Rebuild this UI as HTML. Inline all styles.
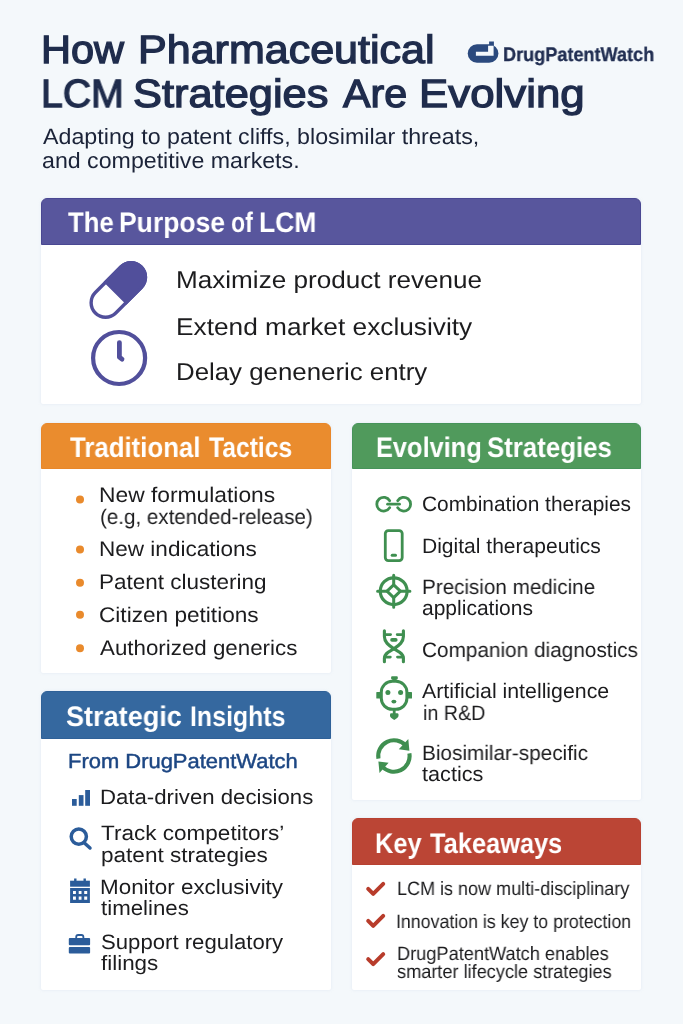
<!DOCTYPE html>
<html lang="en"><head><meta charset="utf-8"><title>How Pharmaceutical LCM Strategies Are Evolving</title>
<style>
html,body{margin:0;padding:0}
body{width:683px;height:1024px;position:relative;overflow:hidden;background:#f4f8fb;font-family:"Liberation Sans",sans-serif}
.t{position:absolute;white-space:nowrap;text-rendering:geometricPrecision;will-change:transform;transform-origin:0 0;margin:0;font-weight:normal}
.b{font-weight:bold}
.card{position:absolute;background:#fff;border-radius:6px 6px 2px 2px;box-shadow:0 0 3px rgba(190,205,225,.35)}
.card .hd{position:absolute;left:0;top:0;right:0;border-radius:6px 6px 0 0;box-sizing:border-box}
#icons{position:absolute;left:0;top:0;width:683px;height:1024px;pointer-events:none}
ul{list-style:none;margin:0;padding:0}
h1,h2{margin:0;padding:0;font-size:0;line-height:0}
</style></head><body>
<header>
<h1><span id="t1a" class="t" style="left:40.97px;top:30.91px;font-size:39.5px;line-height:39.5px;color:#1f2c4c;transform:scaleX(1.0503);-webkit-text-stroke:1.3px #1f2c4c;">How</span> <span id="t1b" class="t" style="left:138.28px;top:30.91px;font-size:39.5px;line-height:39.5px;color:#1f2c4c;transform:scaleX(1.0894);-webkit-text-stroke:1.3px #1f2c4c;">Pharmaceutical</span> <span id="t2a" class="t" style="left:41.12px;top:74.81px;font-size:39.5px;line-height:39.5px;color:#1f2c4c;transform:scaleX(0.9917);-webkit-text-stroke:1.3px #1f2c4c;">LCM</span> <span id="t2b" class="t" style="left:133.30px;top:74.81px;font-size:39.5px;line-height:39.5px;color:#1f2c4c;transform:scaleX(1.0989);-webkit-text-stroke:1.3px #1f2c4c;">Strategies</span> <span id="t2c" class="t" style="left:342.78px;top:74.81px;font-size:39.5px;line-height:39.5px;color:#1f2c4c;transform:scaleX(1.0426);-webkit-text-stroke:1.3px #1f2c4c;">Are</span> <span id="t2d" class="t" style="left:419.13px;top:74.81px;font-size:39.5px;line-height:39.5px;color:#1f2c4c;transform:scaleX(1.1097);-webkit-text-stroke:1.3px #1f2c4c;">Evolving</span></h1>
<div id="lg" class="t b" style="left:502.84px;top:45.76px;font-size:19.6px;line-height:19.6px;color:#212e52;transform:scaleX(0.9240);-webkit-text-stroke:0.3px #212e52;">DrugPatentWatch</div>
<div id="s1" class="t" style="left:42.80px;top:126.21px;font-size:22.2px;line-height:22.2px;color:#1b2338;transform:scaleX(1.0475);">Adapting to patent cliffs, blosimilar threats,</div>
<div id="s2" class="t" style="left:41.56px;top:149.51px;font-size:22.2px;line-height:22.2px;color:#1b2338;transform:scaleX(1.0444);">and competitive markets.</div>
</header>
<section class="card" id="purpose" style="left:41.3px;top:198px;width:599.9000000000001px;height:206.2px">
<div class="hd" style="height:47px;background:#58569d;border:1px solid #4a4892"></div>
<h2><span id="h1a" class="t b" style="left:26.37px;top:10.34px;font-size:28.3px;line-height:28.3px;color:#fff;transform:scaleX(0.9102);">The</span> <span id="h1b" class="t b" style="left:78.03px;top:10.34px;font-size:28.3px;line-height:28.3px;color:#fff;transform:scaleX(0.9361);">Purpose</span> <span id="h1c" class="t b" style="left:189.78px;top:10.34px;font-size:28.3px;line-height:28.3px;color:#fff;transform:scaleX(0.8194);">of</span> <span id="h1d" class="t b" style="left:217.73px;top:10.34px;font-size:28.3px;line-height:28.3px;color:#fff;transform:scaleX(0.9357);">LCM</span></h2>
<ul>
<li id="p1" class="t" style="left:134.55px;top:71.33px;font-size:24.3px;line-height:24.3px;color:#1c1c1e;transform:scaleX(1.0744);">Maximize product revenue</li>
<li id="p2" class="t" style="left:134.54px;top:118.23px;font-size:24.3px;line-height:24.3px;color:#1c1c1e;transform:scaleX(1.0805);">Extend market exclusivity</li>
<li id="p3" class="t" style="left:134.57px;top:163.23px;font-size:24.3px;line-height:24.3px;color:#1c1c1e;transform:scaleX(1.0630);">Delay geneneric entry</li>
</ul></section>
<section class="card" id="trad" style="left:41.3px;top:422.8px;width:289.9px;height:250.59999999999997px">
<div class="hd" style="height:46.599999999999966px;background:#ea8c2e;border:1px solid #e8872a"></div>
<h2><span id="h2a" class="t b" style="left:28.27px;top:10.34px;font-size:28.3px;line-height:28.3px;color:#fff;transform:scaleX(0.9115);">Traditional</span> <span id="h2b" class="t b" style="left:167.58px;top:10.34px;font-size:28.3px;line-height:28.3px;color:#fff;transform:scaleX(0.8702);">Tactics</span></h2>
<ul>
<li id="o1" class="t" style="left:57.82px;top:62.65px;font-size:21.2px;line-height:21.2px;color:#1c1c1e;transform:scaleX(1.0766);">New formulations</li>
<li id="o2" class="t" style="left:58.49px;top:84.65px;font-size:21.2px;line-height:21.2px;color:#1c1c1e;transform:scaleX(0.9709);">(e.g, extended-release)</li>
<li id="o3" class="t" style="left:57.84px;top:116.45px;font-size:21.2px;line-height:21.2px;color:#1c1c1e;transform:scaleX(1.0637);">New indications</li>
<li id="o4" class="t" style="left:57.84px;top:149.25px;font-size:21.2px;line-height:21.2px;color:#1c1c1e;transform:scaleX(1.0611);">Patent clustering</li>
<li id="o5" class="t" style="left:58.13px;top:182.05px;font-size:21.2px;line-height:21.2px;color:#1c1c1e;transform:scaleX(1.0673);">Citizen petitions</li>
<li id="o6" class="t" style="left:58.40px;top:214.85px;font-size:21.2px;line-height:21.2px;color:#1c1c1e;transform:scaleX(1.0536);">Authorized generics</li>
</ul></section>
<section class="card" id="evol" style="left:351.7px;top:422.8px;width:289.50000000000006px;height:376.99999999999994px">
<div class="hd" style="height:46.599999999999966px;background:#509a5c;border:1px solid #46935a"></div>
<h2><span id="h3a" class="t b" style="left:23.91px;top:10.34px;font-size:28.3px;line-height:28.3px;color:#fff;transform:scaleX(0.8965);">Evolving</span> <span id="h3b" class="t b" style="left:135.69px;top:10.34px;font-size:28.3px;line-height:28.3px;color:#fff;transform:scaleX(0.9128);">Strategies</span></h2>
<ul>
<li id="g1" class="t" style="left:70.60px;top:72.41px;font-size:20.9px;line-height:20.9px;color:#1c1c1e;transform:scaleX(0.9988);">Combination therapies</li>
<li id="g2" class="t" style="left:70.54px;top:114.21px;font-size:20.9px;line-height:20.9px;color:#1c1c1e;transform:scaleX(1.0069);">Digital therapeutics</li>
<li id="g3" class="t" style="left:70.57px;top:154.81px;font-size:20.9px;line-height:20.9px;color:#1c1c1e;transform:scaleX(0.9876);">Precision medicine</li>
<li id="g4" class="t" style="left:70.59px;top:176.41px;font-size:20.9px;line-height:20.9px;color:#1c1c1e;transform:scaleX(1.0055);">applications</li>
<li id="g5" class="t" style="left:70.61px;top:218.51px;font-size:20.9px;line-height:20.9px;color:#1c1c1e;transform:scaleX(0.9942);">Companion diagnostics</li>
<li id="g6" class="t" style="left:70.80px;top:259.51px;font-size:20.9px;line-height:20.9px;color:#1c1c1e;transform:scaleX(1.0203);">Artificial intelligence</li>
<li id="g7" class="t" style="left:70.89px;top:281.31px;font-size:20.9px;line-height:20.9px;color:#1c1c1e;transform:scaleX(0.9427);">in R&amp;D</li>
<li id="g8" class="t" style="left:70.56px;top:321.11px;font-size:20.9px;line-height:20.9px;color:#1c1c1e;transform:scaleX(0.9930);">Biosimilar-specific</li>
<li id="g9" class="t" style="left:70.74px;top:341.91px;font-size:20.9px;line-height:20.9px;color:#1c1c1e;transform:scaleX(1.0369);">tactics</li>
</ul></section>
<section class="card" id="insight" style="left:41.3px;top:691.2px;width:289.9px;height:299.0px">
<div class="hd" style="height:47.39999999999998px;background:#35689f;border:1px solid #2f6198"></div>
<h2><span id="h4a" class="t b" style="left:25.04px;top:10.44px;font-size:28.3px;line-height:28.3px;color:#fff;transform:scaleX(0.9568);">Strategic</span> <span id="h4b" class="t b" style="left:148.44px;top:10.44px;font-size:28.3px;line-height:28.3px;color:#fff;transform:scaleX(0.8798);">Insights</span></h2>
<ul>
<li id="b0" class="t" style="left:26.49px;top:61.03px;font-size:20.4px;line-height:20.4px;color:#1c4683;transform:scaleX(1.0762);-webkit-text-stroke:0.45px #1c4683;">From DrugPatentWatch</li>
<li id="b1" class="t" style="left:58.83px;top:96.59px;font-size:20.8px;line-height:20.8px;color:#1c1c1e;transform:scaleX(1.0663);">Data-driven decisions</li>
<li id="b2" class="t" style="left:59.96px;top:133.09px;font-size:20.8px;line-height:20.8px;color:#1c1c1e;transform:scaleX(1.0834);">Track competitors’</li>
<li id="b3" class="t" style="left:59.34px;top:155.09px;font-size:20.8px;line-height:20.8px;color:#1c1c1e;transform:scaleX(1.0847);">patent strategies</li>
<li id="b4" class="t" style="left:58.81px;top:187.29px;font-size:20.8px;line-height:20.8px;color:#1c1c1e;transform:scaleX(1.0774);">Monitor exclusivity</li>
<li id="b5" class="t" style="left:59.63px;top:207.59px;font-size:20.8px;line-height:20.8px;color:#1c1c1e;transform:scaleX(1.0704);">timelines</li>
<li id="b6" class="t" style="left:59.64px;top:241.59px;font-size:20.8px;line-height:20.8px;color:#1c1c1e;transform:scaleX(1.0647);">Support regulatory</li>
<li id="b7" class="t" style="left:59.63px;top:263.09px;font-size:20.8px;line-height:20.8px;color:#1c1c1e;transform:scaleX(1.0775);">filings</li>
</ul></section>
<section class="card" id="key" style="left:351.7px;top:817.6px;width:289.50000000000006px;height:172.39999999999998px">
<div class="hd" style="height:47.19999999999993px;background:#bb4535;border:1px solid #b74131"></div>
<h2><span id="h5a" class="t b" style="left:23.01px;top:10.94px;font-size:28.3px;line-height:28.3px;color:#fff;transform:scaleX(0.8965);">Key</span> <span id="h5b" class="t b" style="left:77.98px;top:10.94px;font-size:28.3px;line-height:28.3px;color:#fff;transform:scaleX(0.8973);">Takeaways</span></h2>
<ul>
<li id="r1" class="t" style="left:44.90px;top:62.36px;font-size:19.3px;line-height:19.3px;color:#1c1c1e;transform:scaleX(0.9344);">LCM is now multi-disciplinary</li>
<li id="r2" class="t" style="left:44.69px;top:95.76px;font-size:19.3px;line-height:19.3px;color:#1c1c1e;transform:scaleX(0.9218);">Innovation is key to protection</li>
<li id="r3" class="t" style="left:44.88px;top:127.16px;font-size:19.3px;line-height:19.3px;color:#1c1c1e;transform:scaleX(0.9435);">DrugPatentWatch enables</li>
<li id="r4" class="t" style="left:45.43px;top:145.06px;font-size:19.3px;line-height:19.3px;color:#1c1c1e;transform:scaleX(0.9410);">smarter lifecycle strategies</li>
</ul></section>
<svg id="icons" viewBox="0 0 683 1024" width="683" height="1024">
<!-- logo -->
<g fill="#2b4a7e">
<rect x="467.7" y="44.2" width="30.7" height="18.5" rx="9.25"/>
<rect x="489.1" y="41.5" width="4.8" height="5"/>
<path fill="#f4f8fb" d="M488.1 45.7H493.6V55.7H475.9V51.8H488.1Z"/>
</g>
<!-- capsule -->
<g transform="translate(118.3 290) rotate(-45)" stroke="#514f9b" fill="none" stroke-width="3.4">
<rect x="-32.45" y="-14.45" width="64.9" height="28.9" rx="14.45"/>
<path d="M-3 -14.45H18A14.45 14.45 0 0 1 18 14.45H-3Z" fill="#514f9b"/>
</g>
<!-- clock -->
<g stroke="#514f9b" fill="none" stroke-linecap="round" stroke-linejoin="round">
<circle cx="119.1" cy="358" r="26" stroke-width="4.2"/>
<path d="M119.4 342.6V357.2L122 359.2" stroke-width="4.8"/>
</g>
<!-- bullets -->
<g fill="#e98a2c">
<circle cx="80" cy="499.6" r="4"/><circle cx="80" cy="549.5" r="4"/><circle cx="80" cy="582.8" r="4"/><circle cx="80" cy="614.8" r="4"/><circle cx="80" cy="648.3" r="4"/>
</g>
<!-- green icons -->
<g stroke="#3f8f50" fill="none" stroke-linecap="round" stroke-linejoin="round" stroke-width="2.8">
<!-- link -->
<path d="M389.68 500.75A6.9 6.9 0 1 0 389.68 507.65"/>
<path d="M397.72 500.75A6.9 6.9 0 1 1 397.72 507.65"/>
<path d="M387.6 504.2H399.5"/>
<!-- phone -->
<rect x="385.3" y="530.6" width="16.9" height="30" rx="3"/>
<path d="M392.2 555.3H395.5" stroke-width="3"/>
<!-- target -->
<circle cx="393.7" cy="591.2" r="13.4" stroke-width="3.2"/>
<path d="M393.7 584.8L400.4 591.2L393.7 597.6L387 591.2Z" stroke-width="3"/>
<path d="M393.7 575.2V584.5M393.7 598V607.3M377.6 591.2H386.8M400.6 591.2H409.9" stroke-width="3"/>
<!-- dna -->
<path stroke-width="3.1" d="M384.4 630.8V636.5C384.4 643 390 646 393.9 648.7C398 651.5 403.4 653 403.4 658V661.8"/>
<path stroke-width="3.1" d="M403.4 630.8V636.5C403.4 643 397.8 646 393.9 648.7C389.8 651.5 384.4 653 384.4 658V661.8"/>
<path d="M384.6 634.6H390.6M397.2 634.6H403.2M384.6 657.1H390.3M397.5 657.1H403.2"/>
<path d="M392 639.9H395.8" stroke-width="3.6"/>
<path d="M392.6 648.7H395.2" stroke-width="3.4"/>
<!-- robot -->
<rect x="381.3" y="681.3" width="25.6" height="28" rx="11" stroke-width="3"/>
<!-- refresh -->
<path d="M378.44 758.73A15.7 15.7 0 0 1 405.6 745.5" stroke-width="4.1" stroke-linecap="butt"/>
<path d="M409.36 753.27A15.7 15.7 0 0 1 382.2 766.5" stroke-width="4.1" stroke-linecap="butt"/>
</g>
<g fill="#3f8f50">
<!-- robot solids -->
<rect x="376.3" y="692.1" width="4.4" height="6.4" rx="0.6"/><rect x="407.6" y="692.1" width="4.4" height="6.4" rx="0.6"/>
<path d="M391.1 677.3q0-1 1-1h4.7q1 0 1 1v1.2q0 1-1.4 1.2v1.6h-3.9v-1.6q-1.4-0.2-1.4-1.2z"/>
<rect x="392.8" y="710" width="2.8" height="4"/>
<path d="M390 714.6q0-1.4 1.4-1.4h5.7q1.4 0 1.4 1.4v1.2q0 2-4.25 4.1q-4.25-2.1-4.25-4.1z"/>
<circle cx="387.9" cy="692.5" r="2.5"/><circle cx="400.6" cy="692.5" r="2.5"/><ellipse cx="393.9" cy="701.6" rx="2.5" ry="1.9"/>
<!-- refresh arrowheads -->
<path d="M408.3 739.1L409.4 750.7L398.8 749.3Z"/>
<path d="M378.4 761.6L388.6 762.7L379.5 772.9Z"/>
</g>
<!-- blue icons -->
<g fill="#2b5c9a">
<rect x="72" y="799" width="4.7" height="6.8"/><rect x="78.8" y="795.1" width="4.7" height="10.7"/><rect x="85.2" y="790" width="4.8" height="15.8"/>
<!-- calendar -->
<rect x="74.1" y="878.5" width="2.4" height="4"/><rect x="83.5" y="878.5" width="2.4" height="4"/>
<rect x="70.1" y="880.7" width="19.8" height="6"/>
<path fill-rule="evenodd" d="M70.1 888H89.9V902.9H70.1ZM73 891.1H75.9V894.1H73ZM78.7 891.1H81.5V894.1H78.7ZM84.2 891.1H87.2V894.1H84.2ZM73 896.5H75.9V899.7H73ZM78.7 896.5H81.5V899.7H78.7ZM84.2 896.5H87.2V899.7H84.2Z"/>
<!-- briefcase -->
<rect x="68.8" y="938" width="21.3" height="7.3" rx="1"/>
<rect x="68.8" y="947.1" width="21.3" height="6.3" rx="1"/>
</g>
<g stroke="#2b5c9a" fill="none" stroke-linecap="round">
<circle cx="78.8" cy="836.6" r="7.6" stroke-width="3.5"/>
<path d="M84.7 843.3L90 848" stroke-width="3.5"/>
<path d="M76.2 938.5V937q0-2 2-2h3.2q2 0 2 2V938.5" stroke-width="1.8"/>
</g>
<!-- checks -->
<g stroke="#b83c2b" fill="none" stroke-width="4" stroke-linecap="round" stroke-linejoin="round">
<path d="M368.2 888.8L373.2 893.8L383.2 883.8"/>
<path d="M368.2 920.8L373.2 925.8L383.2 915.8"/>
<path d="M368.2 959.1L373.2 964.1L383.2 954.1"/>
</g>
</svg>

</body></html>
